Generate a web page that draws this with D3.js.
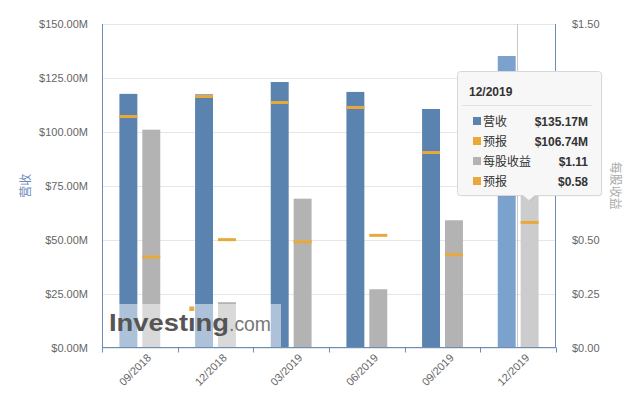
<!DOCTYPE html>
<html>
<head>
<meta charset="utf-8">
<script src="https://cdn.jsdelivr.net/npm/d3@7/dist/d3.min.js"></script>
<style>
html,body{margin:0;padding:0;background:#fff;}
svg{display:block;}
text{font-family:"Liberation Sans",Arial,"Noto Sans CJK SC",sans-serif;}
</style>
</head>
<body>
<svg id="chart" width="632" height="403"></svg>
<script>
const categories = ['09/2018','12/2018','03/2019','06/2019','09/2019','12/2019'];
const revenue = [117.6, 117.4, 123.1, 118.5, 110.6, 135.17];
const revenueForecast = [107.1, 116.4, 113.6, 111.3, 90.4, 106.74];
const eps = [1.01, 0.21, 0.69, 0.27, 0.59, 1.11];
const epsForecast = [0.42, 0.50, 0.49, 0.52, 0.43, 0.58];
const revTicks = [0, 25, 50, 75, 100, 125, 150];
const epsTicks = [0, 0.25, 0.5, 0.75, 1.0, 1.25, 1.5];
const hoverIndex = 5;

const svg = d3.select('#chart');
const L = 102, R = 556, T = 24, B = 347.5;

const x = d3.scaleBand().domain(categories).range([L, R]).padding(0);
const sub = d3.scaleBand().domain(['rev','eps']).range([0, x.bandwidth()]).paddingInner(0.217).paddingOuter(0.76);
const yRev = d3.scaleLinear().domain([0, 150]).range([B, T]);
const yEps = d3.scaleLinear().domain([0, 1.5]).range([B, T]);

const C = {blue:'#5b83b0', blueH:'#7ba2cd', gray:'#b3b3b3', grayH:'#cccccc', orange:'#e9a93a', axis:'#6d8cb6', grid:'#e6e6e6', label:'#666'};

// tooltip geometry
const tx = 457.5, ty = 71.5, tw = 144, th = 124, px = 529;

// gridlines
svg.append('g').selectAll('line').data(revTicks).join('line')
  .attr('x1', L).attr('x2', R)
  .attr('y1', d => Math.round(yRev(d)) + 0.5).attr('y2', d => Math.round(yRev(d)) + 0.5)
  .attr('stroke', C.grid).attr('stroke-width', 1);

// crosshair
svg.append('line')
  .attr('x1', 517.5).attr('x2', 517.5).attr('y1', T).attr('y2', B)
  .attr('stroke', '#c8c8c8').attr('stroke-width', 1);

const bw = sub.bandwidth();
// revenue bars
svg.append('g').selectAll('rect').data(revenue).join('rect')
  .attr('x', (d, i) => x(categories[i]) + sub('rev'))
  .attr('width', bw)
  .attr('y', d => yRev(d)).attr('height', d => B - yRev(d))
  .attr('fill', (d, i) => i === hoverIndex ? C.blueH : C.blue);
// eps bars
svg.append('g').selectAll('rect').data(eps).join('rect')
  .attr('x', (d, i) => x(categories[i]) + sub('eps'))
  .attr('width', bw)
  .attr('y', d => yEps(d)).attr('height', d => B - yEps(d))
  .attr('fill', (d, i) => i === hoverIndex ? C.grayH : C.gray);
// forecasts
svg.append('g').selectAll('rect').data(revenueForecast).join('rect')
  .attr('x', (d, i) => x(categories[i]) + sub('rev'))
  .attr('width', bw)
  .attr('y', d => yRev(d) - 1.5).attr('height', 3)
  .attr('fill', C.orange);
svg.append('g').selectAll('rect').data(epsForecast).join('rect')
  .attr('x', (d, i) => x(categories[i]) + sub('eps'))
  .attr('width', bw)
  .attr('y', d => yEps(d) - 1.5).attr('height', 3)
  .attr('fill', C.orange);

// watermark
const wm = svg.append('g');
wm.append('rect').attr('x', L).attr('y', 304).attr('width', 179).attr('height', B - 304)
  .attr('fill', '#fff').attr('fill-opacity', 0.5);
const wmText = wm.append('text').attr('x', 109).attr('y', 331).attr('font-size', 24).attr('font-weight', 'bold')
  .attr('fill', '#555').attr('textLength', 120).attr('lengthAdjust', 'spacingAndGlyphs')
  .text('Investıng');
try {
  const ext = wmText.node().getExtentOfChar(6);
  const cx = ext.x + ext.width / 2;
  wm.append('rect').attr('x', cx - 2.5).attr('y', 306.5).attr('width', 5).attr('height', 4.5).attr('fill', C.orange);
} catch (e) {}
wm.append('text').attr('x', 229).attr('y', 331).attr('font-size', 21)
  .attr('fill', '#777').attr('textLength', 42).attr('lengthAdjust', 'spacingAndGlyphs')
  .text('.com');

// axes lines
svg.append('line').attr('x1', L + 0.5).attr('x2', L + 0.5).attr('y1', T).attr('y2', B).attr('stroke', C.axis);
svg.append('line').attr('x1', R - 0.5).attr('x2', R - 0.5).attr('y1', T).attr('y2', B).attr('stroke', C.axis);

// bottom axis
const xAxis = svg.append('g').attr('transform', `translate(0,${B})`);
xAxis.append('line').attr('x1', L).attr('x2', R).attr('y1', 0).attr('y2', 0).attr('stroke', C.axis);
const bounds = categories.map(c => x(c)).concat([R]);
xAxis.selectAll('line.tk').data(bounds).join('line').attr('class', 'tk')
  .attr('x1', d => Math.round(d) + 0.5).attr('x2', d => Math.round(d) + 0.5)
  .attr('y1', 0).attr('y2', 5).attr('stroke', C.axis);
xAxis.selectAll('text').data(categories).join('text')
  .attr('transform', d => `translate(${x(d) + x.bandwidth() / 2 + 12},${11}) rotate(-45)`)
  .attr('text-anchor', 'end').attr('font-size', 11).attr('fill', C.label)
  .text(d => d);

// left ticks
svg.append('g').selectAll('text').data(revTicks).join('text')
  .attr('x', 88).attr('y', d => yRev(d) + 4)
  .attr('text-anchor', 'end').attr('font-size', 11).attr('fill', C.label)
  .text(d => '$' + d3.format('.2f')(d) + 'M');
// right ticks (those hidden behind the tooltip are not drawn)
svg.append('g').selectAll('text').data(epsTicks.filter(d => yEps(d) < ty - 6 || yEps(d) > ty + th + 6)).join('text')
  .attr('x', 572).attr('y', d => yEps(d) + 4)
  .attr('text-anchor', 'start').attr('font-size', 11).attr('fill', C.label)
  .text(d => '$' + d3.format('.2f')(d));

// axis titles
svg.append('text').attr('transform', `translate(30,${(T + B) / 2}) rotate(-90)`)
  .attr('text-anchor', 'middle').attr('font-size', 12).attr('fill', '#6d87bd').text('营收');
svg.append('text').attr('transform', `translate(611,${(T + B) / 2}) rotate(90)`)
  .attr('text-anchor', 'middle').attr('font-size', 12).attr('fill', '#aaa').text('每股收益');

// tooltip
const tt = svg.append('g');
const path = `M${tx + 3},${ty} H${tx + tw - 3} Q${tx + tw},${ty} ${tx + tw},${ty + 3} V${ty + th - 3} Q${tx + tw},${ty + th} ${tx + tw - 3},${ty + th} H${px + 6} L${px},${ty + th + 5} L${px - 6},${ty + th} H${tx + 3} Q${tx},${ty + th} ${tx},${ty + th - 3} V${ty + 3} Q${tx},${ty} ${tx + 3},${ty} Z`;
tt.append('path').attr('d', path).attr('fill', '#000').attr('fill-opacity', 0.05).attr('transform', 'translate(1,1)');
tt.append('path').attr('d', path).attr('fill', '#f7f7f7').attr('fill-opacity', 1).attr('stroke', '#d8d8d8');
tt.append('text').attr('x', 469).attr('y', 96).attr('font-size', 12).attr('font-weight', 'bold').attr('fill', '#333').text(categories[hoverIndex]);
tt.append('line').attr('x1', 462).attr('x2', 592).attr('y1', 105.5).attr('y2', 105.5).attr('stroke', '#e2e2e2');
const rows = [
  {c: C.blue, l: '营收', v: '$' + d3.format('.2f')(revenue[hoverIndex]) + 'M'},
  {c: C.orange, l: '预报', v: '$' + d3.format('.2f')(revenueForecast[hoverIndex]) + 'M'},
  {c: C.gray, l: '每股收益', v: '$' + d3.format('.2f')(eps[hoverIndex])},
  {c: C.orange, l: '预报', v: '$' + d3.format('.2f')(epsForecast[hoverIndex])}
];
rows.forEach((r, i) => {
  const cy = 121 + i * 20;
  tt.append('rect').attr('x', 473).attr('y', cy - 4).attr('width', 8).attr('height', 8).attr('fill', r.c);
  tt.append('text').attr('x', 483).attr('y', cy + 4.5).attr('font-size', 12).attr('fill', '#333').text(r.l);
  tt.append('text').attr('x', 588).attr('y', cy + 4.5).attr('text-anchor', 'end').attr('font-size', 12).attr('font-weight', 'bold').attr('fill', '#333').text(r.v);
});
</script>
</body>
</html>
